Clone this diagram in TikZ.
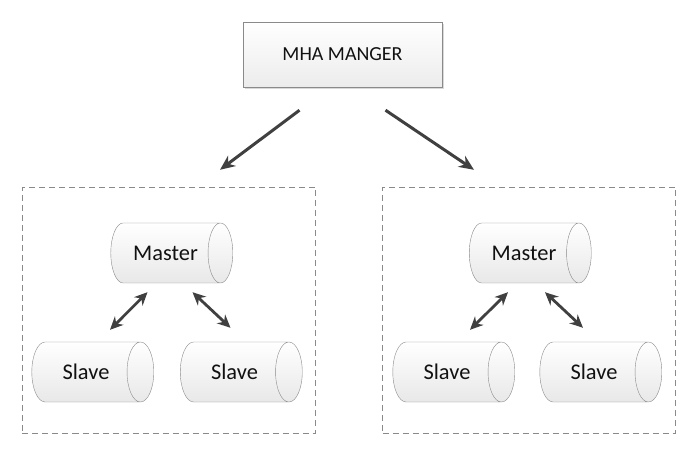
\documentclass[tikz,border=0pt]{standalone}
\usepackage{fontspec}
\setmainfont{Carlito}
\usepackage{xcolor}
\usepackage{tikz}
\usetikzlibrary{shapes.geometric,shadows,arrows.meta,calc}

\definecolor{linegray}{HTML}{8A8A8A}
\definecolor{arrowgray}{HTML}{404040}
\definecolor{textgray}{HTML}{111111}

\begin{document}
\begin{tikzpicture}[x=1bp, y=-1bp]
	\tikzstyle{manager}=[draw=linegray, top color=white, bottom color=gray!15,
		minimum width=199bp, minimum height=65bp, text=textgray, font=\fontsize{20}{24}\selectfont,
		drop shadow={opacity=0.3, shadow xshift=2bp, shadow yshift=-2bp}]
	\tikzstyle{db}=[cylinder, shape border rotate=0, aspect=1.7, draw=linegray,
		top color=white, bottom color=gray!18, minimum width=60bp, minimum height=122bp,
		text=textgray, font=\fontsize{22.5}{26}\selectfont, inner sep=0pt]
	\tikzstyle{group}=[draw=linegray, dash pattern=on 6bp off 4bp, minimum width=293bp, minimum height=246bp]
	\tikzstyle{push}=[-{Stealth[length=15bp, width=13bp]}, draw=arrowgray, line width=3bp]
	\tikzstyle{sync}=[{Stealth[length=13bp, width=12bp]}-{Stealth[length=13bp, width=12bp]}, draw=arrowgray, line width=2.8bp]
	\useasboundingbox (0,0) rectangle (692,458);
	\node[manager]  (mha)  at (342.5,54.5) {MHA MANGER};
	\node[group]    (grpL) at (169,310)    {};
	\node[group]    (grpR) at (529,310)    {};
	\node[db]       (mL)   at (165.5,253)  {Master};
	\node[db]       (sL1)  at (86,372)     {Slave};
	\node[db]       (sL2)  at (234.5,372)  {Slave};
	\node[db]       (mR)   at (524,253)    {Master};
	\node[db]       (sR1)  at (447,372)    {Slave};
	\node[db]       (sR2)  at (594,372)    {Slave};
	% manager to groups
	\draw[push] ($(mha.south)+(-43,23)$) -- ($(grpL.north)+(51,-17)$);
	\draw[push] ($(mha.south)+(43,23)$)  -- ($(grpR.north)+(-55,-17)$);
	% master <-> slaves
	\draw[sync] ($(mL.south)+(-18,9)$)  -- ($(sL1.north)+(24,-12)$);
	\draw[sync] ($(mL.south)+(27,9)$)   -- ($(sL2.north)+(-4,-14)$);
	\draw[sync] ($(mR.south)+(-16,9)$)  -- ($(sR1.north)+(23,-12)$);
	\draw[sync] ($(mR.south)+(21,9)$)   -- ($(sR2.north)+(-11,-14)$);
\end{tikzpicture}
\end{document}
